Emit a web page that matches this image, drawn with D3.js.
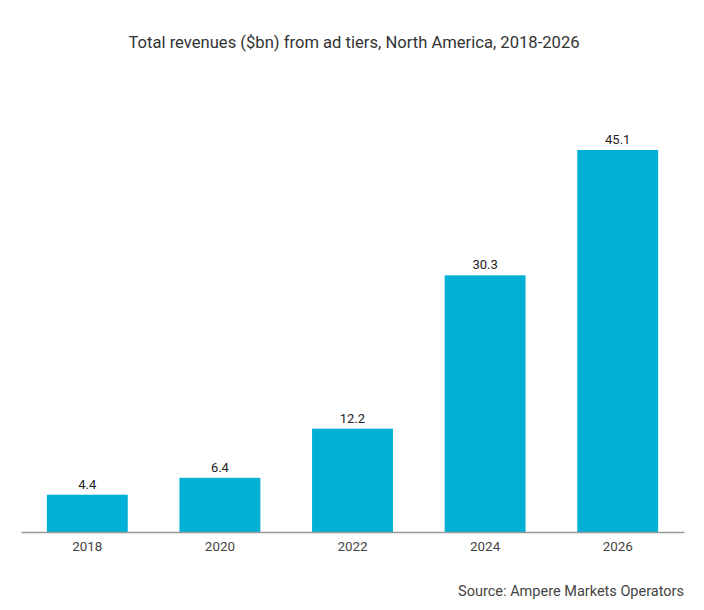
<!DOCTYPE html>
<html>
<head>
<meta charset="utf-8">
<script src="https://cdn.jsdelivr.net/npm/d3@7"></script>
<style>
  body { margin: 0; background: #fff; }
  text { font-family: Roboto, "Noto Sans", sans-serif; }
</style>
</head>
<body>
<div id="bar_chart"></div>
<script>
// chart data
const years = ["2018", "2020", "2022", "2024", "2026"];
const revenues = [4.4, 6.4, 12.2, 30.3, 45.1];

const width = 704, height = 610;
const margin = {left: 21, right: 20, top: 150, bottom: 78};
const baseline = height - margin.bottom; // 532

const svg = d3.select("#bar_chart")
    .append("svg")
    .attr("width", width)
    .attr("height", height);

// title
svg.append("text")
    .attr("x", width / 2 + 2)
    .attr("y", 48)
    .attr("text-anchor", "middle")
    .style("font-size", "16.6px")
    .style("fill", "#333")
    .text("Total revenues ($bn) from ad tiers, North America, 2018-2026");

const x = d3.scaleBand()
    .domain(years)
    .range([margin.left, width - margin.right])
    .paddingInner(0.39)
    .paddingOuter(0.195);

const y = d3.scaleLinear()
    .domain([0, 45.1])
    .range([baseline, margin.top]);

const data = years.map((yr, i) => ({year: yr, value: revenues[i]}));

// bars
svg.selectAll("rect.bar")
    .data(data)
    .join("rect")
    .attr("class", "bar")
    .attr("x", d => x(d.year))
    .attr("y", d => y(d.value))
    .attr("width", x.bandwidth())
    .attr("height", d => baseline - y(d.value))
    .attr("fill", "#00b0d5");

// value labels
svg.selectAll("text.val")
    .data(data)
    .join("text")
    .attr("class", "val")
    .attr("x", d => x(d.year) + x.bandwidth() / 2)
    .attr("y", d => y(d.value) - 6)
    .attr("text-anchor", "middle")
    .style("font-size", "13px")
    .style("fill", "#222")
    .text(d => d.value.toFixed(1));

// x axis
const xAxis = svg.append("g")
    .attr("transform", `translate(0, ${baseline})`)
    .call(d3.axisBottom(x).tickSize(0).tickPadding(9).tickSizeOuter(0));
xAxis.select(".domain").attr("stroke", "#999").attr("stroke-width", 1.3);
xAxis.selectAll("text")
    .style("font-size", "13.4px")
    .style("fill", "#444")
    .style("font-family", "Roboto, sans-serif");

// source
svg.append("text")
    .attr("x", width - 20)
    .attr("y", 596)
    .attr("text-anchor", "end")
    .style("font-size", "14.5px")
    .style("fill", "#444")
    .text("Source: Ampere Markets Operators");
</script>
</body>
</html>
